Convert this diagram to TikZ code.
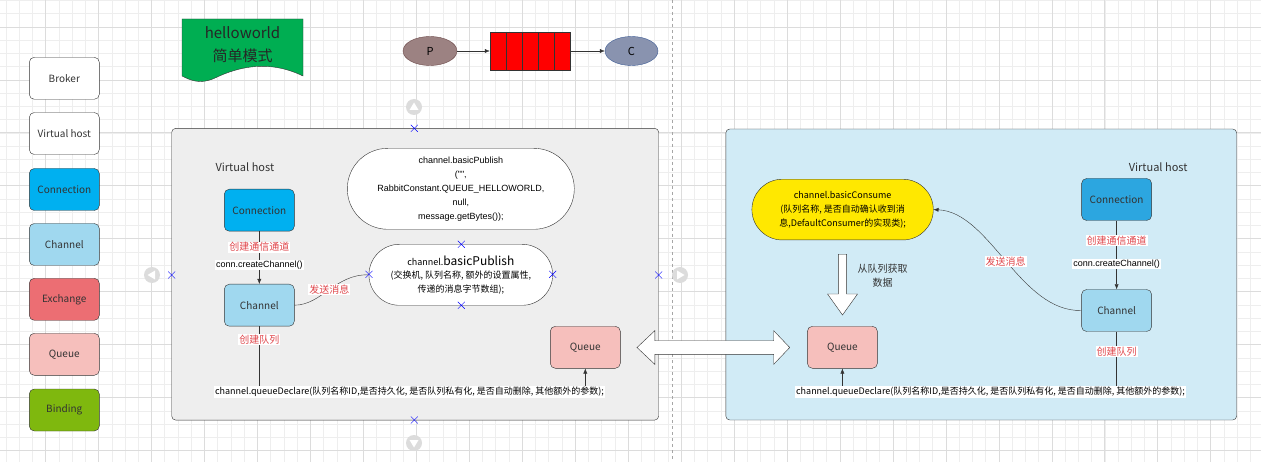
\documentclass[tikz,border=0pt]{standalone}
\usepackage{fontspec}
\setmainfont{Noto Sans CJK SC}
\newfontfamily\codefont[Ligatures=TeXOff]{Liberation Sans}
\usepackage{xcolor}
\usetikzlibrary{positioning, shapes.geometric, shapes.misc, calc, arrows.meta}
\definecolor{gridmin}{HTML}{EEEEEE}
\definecolor{gridmaj}{HTML}{DCDCDC}
\definecolor{linegray}{HTML}{333333}
\definecolor{conncol}{HTML}{00B0F0}
\definecolor{conncolb}{HTML}{2CA6E0}
\definecolor{chancol}{HTML}{A0D8EF}
\definecolor{exchcol}{HTML}{EC6E73}
\definecolor{queuecol}{HTML}{F6BFBC}
\definecolor{bindcol}{HTML}{7FB80E}
\definecolor{doccol}{HTML}{00AE52}
\definecolor{vhgray}{HTML}{EEEEEE}
\definecolor{vhblue}{HTML}{D1EBF6}
\definecolor{yellowcol}{HTML}{FFE800}
\definecolor{labelred}{HTML}{E0474C}
\definecolor{pfill}{HTML}{9C8282}
\definecolor{pdraw}{HTML}{6E4B4B}
\definecolor{cfill}{HTML}{8993AF}
\definecolor{cdraw}{HTML}{3D5B94}
\definecolor{handle}{HTML}{DCDCDC}
\tikzstyle{legendbox} = [rectangle, rounded corners=5pt, draw=linegray, minimum width=70pt, minimum height=42pt, inner sep=0pt, font=\fontsize{10}{12}\selectfont, text=black!80]
\tikzstyle{panel} = [rectangle, rounded corners=4pt, draw=linegray, inner sep=0pt]
\tikzstyle{stadium} = [rounded rectangle, draw=linegray, fill=white, inner sep=0pt, align=center, font=\fontsize{9}{14}\selectfont]
\tikzstyle{codetext} = [fill=white, inner sep=1pt, font=\fontsize{9}{11}\selectfont]
\tikzstyle{redtext} = [fill=white, inner sep=1pt, text=labelred, font=\fontsize{10}{12}\selectfont]
\tikzstyle{line} = [draw=linegray, thin]
\tikzstyle{arrow} = [line, -{Latex[length=5pt,width=4pt]}]
\tikzstyle{handlemark} = [draw=blue, thin]
\begin{document}
\begin{tikzpicture}[x=1pt, y=-1pt]
\useasboundingbox (0,0) rectangle (1261,462);
\fill[white] (0,0) rectangle (1261,462);
% canvas grid
\foreach \i in {0,...,94} \draw[gridmin, line width=0.8pt] ({6.0+13.24*\i},0) -- ({6.0+13.24*\i},462);
\foreach \i in {0,...,34} \draw[gridmin, line width=0.8pt] (0,{0.52+13.24*\i}) -- (1261,{0.52+13.24*\i});
\foreach \i in {0,...,22} \draw[gridmaj, line width=0.9pt] ({45.7+52.96*\i},0) -- ({45.7+52.96*\i},462);
\foreach \i in {0,...,8} \draw[gridmaj, line width=0.9pt] (0,{27+52.96*\i}) -- (1261,{27+52.96*\i});
\draw[gray!70, dashed, line width=0.8pt] (672.3,0) -- (672.3,462);

% legend
\node (broker) [legendbox, fill=white] at (64.3,78.3) {Broker};
\node (vhost) [legendbox, fill=white] at (64.3,133.5) {Virtual host};
\node (conn) [legendbox, fill=conncol] at (64.3,189.5) {Connection};
\node (chan) [legendbox, fill=chancol] at (64.3,244.5) {Channel};
\node (exch) [legendbox, fill=exchcol] at (64.3,299.3) {Exchange};
\node (queue) [legendbox, fill=queuecol] at (64.3,354.3) {Queue};
\node (bind) [legendbox, fill=bindcol] at (64.3,410) {Binding};

% title document
\draw[linegray, fill=doccol] (182,19) -- (303,19) -- (303,76)
  .. controls (270,60) and (240,66) .. (215,78) .. controls (200,85) and (190,80) .. (182,76) -- cycle;
\node (title) [align=center, font=\fontsize{15}{23}\selectfont, text=black!85] at (242.5,45) {helloworld\\简单模式};

% P -> queue -> C
\node (prod) [ellipse, draw=pdraw, fill=pfill, minimum width=54pt, minimum height=29pt, inner sep=0pt, font=\fontsize{11}{13}\selectfont] at (430,51) {P};
\node (mq) [rectangle, draw=linegray, fill=red, minimum width=80pt, minimum height=38pt, inner sep=0pt] at (530,51) {};
\foreach \x in {506.3,522.3,538.3,553.7} \draw[linegray] (\x,32) -- (\x,70);
\node (cons) [ellipse, draw=cdraw, fill=cfill, minimum width=53pt, minimum height=29pt, inner sep=0pt, font=\fontsize{11}{13}\selectfont] at (631.5,51) {C};
\draw [arrow] (prod) -- (mq);
\draw [arrow] (mq) -- (cons);

% producer virtual host
\node (lpanel) [panel, fill=vhgray, minimum width=487pt, minimum height=291.7pt] at (415.2,274.2) {};
\node (lvh) [anchor=west, font=\fontsize{11}{13}\selectfont, text=black!80] at (212,167) {Virtual host};
\node (lconn) [legendbox, fill=conncol] at (259.3,210.2) {Connection};
\node (lchan) [legendbox, fill=chancol] at (259.3,305.2) {Channel};
\node (lqueue) [legendbox, fill=queuecol] at (585.3,347.3) {Queue};
\node (pubfull) [stadium, minimum width=227pt, minimum height=81pt, font=\codefont\fontsize{9}{14}\selectfont] at (460.8,188.8)
  {channel.basicPublish\\("",\\RabbitConstant.QUEUE\_HELLOWORLD,\\null,\\message.getBytes());};
\node (pubshort) [stadium, minimum width=183.7pt, minimum height=61pt, font=\fontsize{9}{13.5}\selectfont] at (460.8,274.8)
  {channel.{\fontsize{12}{14}\selectfont basicPublish}\\(交换机, 队列名称, 额外的设置属性,\\传递的消息字节数组);};
\node (ldeclare) [codetext] at (409.5,392) {channel.queueDeclare(队列名称ID,是否持久化, 是否队列私有化, 是否自动删除, 其他额外的参数);};
\draw [arrow] (lconn) -- node[redtext, pos=0.3] {创建通信通道} node[codetext, pos=0.64, font=\codefont\fontsize{9}{11}\selectfont] {conn.createChannel()} (lchan);
\draw [line] (lchan) -- node[redtext, pos=0.22] {创建队列} (lchan |- ldeclare.north);
\draw [arrow] (lqueue |- ldeclare.north) -- (lqueue);
\draw [line] (lchan.east) .. controls (322,305) and (335,274) .. node[redtext, pos=0.5] {发送消息} (pubshort.west);

% consumer virtual host
\node (rpanel) [panel, fill=vhblue, minimum width=510.9pt, minimum height=291pt] at (981.25,274.5) {};
\node (rvh) [anchor=east, font=\fontsize{11}{13}\selectfont, text=black!80] at (1191,167) {Virtual host};
\node (rconn) [legendbox, fill=conncolb] at (1116.6,199.5) {Connection};
\node (rchan) [legendbox, fill=chancol] at (1116.6,310.5) {Channel};
\node (rqueue) [legendbox, fill=queuecol] at (842.4,347.3) {Queue};
\node (consume) [stadium, fill=yellowcol, minimum width=181.4pt, minimum height=60.7pt, font=\fontsize{9}{14}\selectfont] at (842.6,209.6)
  {channel.basicConsume\\(队列名称, 是否自动确认收到消\\息,DefaultConsumer的实现类);};
\node (rdeclare) [codetext] at (990.5,392) {channel.queueDeclare(队列名称ID,是否持久化, 是否队列私有化, 是否自动删除, 其他额外的参数);};
\draw [arrow] (rconn) -- node[redtext, pos=0.29] {创建通信通道} node[codetext, pos=0.63, font=\codefont\fontsize{9}{11}\selectfont] {conn.createChannel()} (rchan);
\draw [line] (rchan) -- node[redtext, pos=0.37] {创建队列} (rchan |- rdeclare.north);
\draw [arrow] (rqueue |- rdeclare.north) -- (rqueue);
\draw [arrow] (rchan.west) .. controls (1020,312) and (990,212) .. node[redtext, pos=0.5] {发送消息} (consume.east);
\coordinate (dtop) at (842.5,254.3);
\draw[linegray, fill=white] ($(dtop)+(-4.1,0)$) -- ($(dtop)+(4.1,0)$) -- ($(dtop)+(4.1,39.7)$) -- ($(dtop)+(15,39.7)$)
  -- ($(dtop)+(0,60.7)$) -- ($(dtop)+(-15,39.7)$) -- ($(dtop)+(-4.1,39.7)$) -- cycle;
\node (fetch) [align=center, font=\fontsize{10}{14}\selectfont, text=black!80] at (882.5,276) {从队列获取\\数据};

% double arrow between the hosts
\coordinate (dl) at (637,347.5);
\coordinate (dr) at (789.7,347.5);
\draw[linegray, fill=white] (dl) -- ($(dl)+(17.8,-16.8)$) -- ($(dl)+(17.8,-6.8)$) -- ($(dr)+(-16,-6.8)$) -- ($(dr)+(-16,-16.8)$)
  -- (dr) -- ($(dr)+(-16,16.8)$) -- ($(dr)+(-16,6.8)$) -- ($(dl)+(17.8,6.8)$) -- ($(dl)+(17.8,16.8)$) -- cycle;

% editor handles
\foreach \p in {(414.3,128.3),(171.7,275),(658.7,275),(414.3,420),(461.3,244.3),(461.3,305.3),(369,274.3),(552.7,274.3)}
  \draw[handlemark] \p ++(-3.5,-3.5) -- ++(7,7) \p ++(-3.5,3.5) -- ++(7,-7);
\fill[handle] (414,107) circle (8);
\fill[white] (414,102.5) -- (418.5,110) -- (409.5,110) -- cycle;
\fill[handle] (414,443) circle (8);
\fill[white] (414,447.5) -- (418.5,440) -- (409.5,440) -- cycle;
\fill[handle] (152,275) circle (8);
\fill[white] (147.5,275) -- (155,270.5) -- (155,279.5) -- cycle;
\fill[handle] (680,275) circle (8);
\fill[white] (684.5,275) -- (677,270.5) -- (677,279.5) -- cycle;
\end{tikzpicture}
\end{document}
